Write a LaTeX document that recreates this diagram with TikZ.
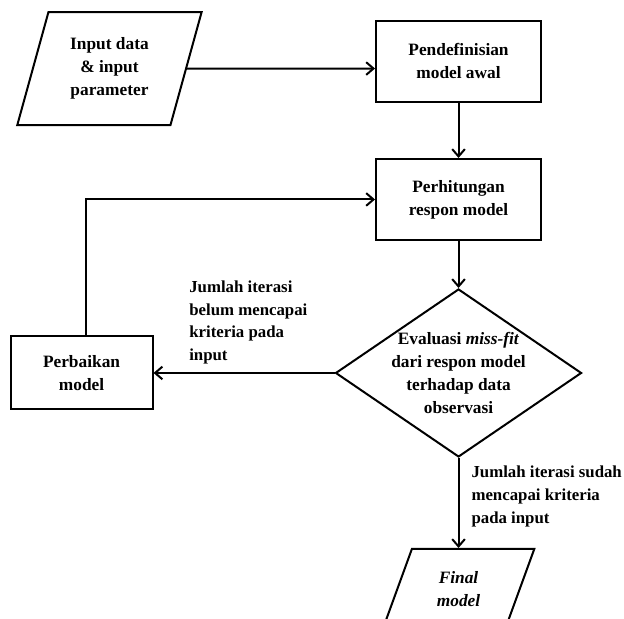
\documentclass[tikz,border=0pt]{standalone}
\usepackage{fontspec}
\setmainfont{Liberation Serif}
\usetikzlibrary{arrows.meta,positioning,shapes.geometric}
\tikzset{
  block/.style={draw=black, line width=1.5pt, align=center, fill=white,
    minimum width=123.75pt, minimum height=60.75pt, inner sep=2pt},
  ioblock/.style={draw=black, line width=1.5pt, align=center, fill=white,
    trapezium, trapezium stretches=true, inner sep=0pt},
  decision/.style={draw=black, line width=1.5pt, align=center, fill=white,
    diamond, aspect=1.46, inner sep=-3pt, minimum width=184.5pt, minimum height=126pt},
  arr/.style={-{Straight Barb[length=5.5pt,width=9.5pt]}, line width=1.5pt},
  note/.style={align=left, inner sep=3pt, font=\bfseries\fontsize{12.6}{17}\selectfont}
}
\begin{document}
\begin{tikzpicture}[font=\bfseries\fontsize{13}{17.25}\selectfont]
  \useasboundingbox (0,0) rectangle (468pt,-463.5pt);
  \node[ioblock, trapezium left angle=72, trapezium right angle=108,
    minimum width=138.75pt, minimum height=84.75pt] (inp) at (82.1pt,-51.4pt) {Input data\\\& input\\parameter};
  \node[block] (def) at (343.9pt,-46.1pt) {Pendefinisian\\model awal};
  \node[block, below=41.25pt of def] (calc) {Perhitungan\\respon model};
  \node[decision, below=35.25pt of calc] (eval) {Evaluasi \textit{miss-fit}\\dari respon model\\terhadap data\\observasi};
  \node[block, left=135.75pt of eval, minimum width=106.5pt, minimum height=54.75pt] (fix) {Perbaikan\\model};
  \node[ioblock, trapezium left angle=69, trapezium right angle=111,
    minimum width=114pt, minimum height=60pt, below=67.5pt of eval] (out) {\textit{Final}\\\textit{model}};

  \draw[arr] (inp) -- (inp -| def.west);
  \draw[arr] (def) -- (calc);
  \draw[arr] (calc) -- (eval);
  \draw[arr] (eval.west) -- (eval.west -| fix.east)
    node[pos=0.83, anchor=south west, note, yshift=3pt] {Jumlah iterasi\\belum mencapai\\kriteria pada\\input};
  \draw[arr] ([xshift=3pt]fix.north) |- (calc.west);
  \draw[arr] (eval.south) -- (out.north)
    node[midway, right, note, xshift=6pt, yshift=5pt] {Jumlah iterasi sudah\\mencapai kriteria\\pada input};
\end{tikzpicture}
\end{document}
